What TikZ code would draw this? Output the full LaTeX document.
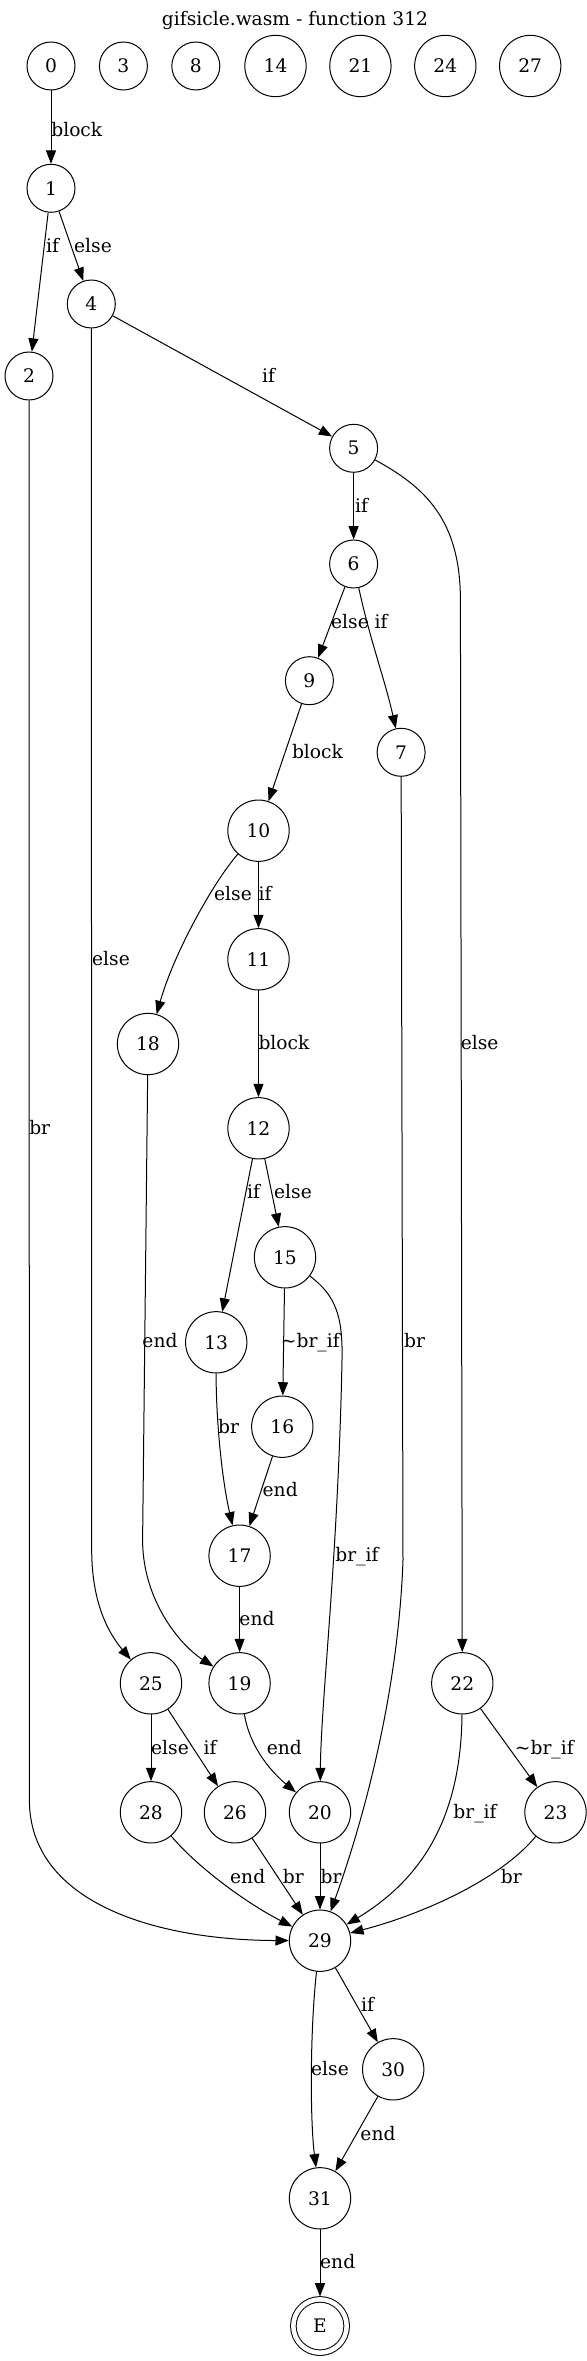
\documentclass[tikz,border=0pt]{standalone}
\usepackage{fontspec}
\setmainfont{DejaVu Serif}
\usetikzlibrary{arrows.meta}

\tikzset{
	vtx/.style={draw, circle, line width=0.75pt, minimum size=36pt, inner sep=0pt},
	vtxw/.style={vtx, minimum size=46pt},
	vtxend/.style={vtx, double, double distance=3.4pt, minimum size=40pt, outer sep=2.1pt},
	flow/.style={line width=0.75pt, -{Triangle[length=10pt, width=7.5pt]}},
	elabel/.style={inner sep=0pt, anchor=base, yshift=-4.8pt},
}

\begin{document}
\begin{tikzpicture}[x=0.75pt, y=-0.75pt, font=\fontsize{14pt}{17pt}\selectfont]
		%%%%% START %%%%%
		\useasboundingbox (0,0) rectangle (586,2361);
		
		\node (title) at (295,20) {gifsicle.wasm - function 312};
		
		\node[vtx] (n0) at (51,66) {0};
		\node[vtx] (n3) at (123.4,66) {3};
		\node[vtx] (n8) at (195.8,66) {8};
		\node[vtxw] (n14) at (275.5,66) {14};
		\node[vtxw] (n21) at (360.4,66) {21};
		\node[vtxw] (n24) at (445.3,66) {24};
		\node[vtxw] (n27) at (530.2,66) {27};
		
		\node[vtx] (n1) at (51,188.3) {1};
		\node[vtx] (n2) at (29,376) {2};
		\node[vtx] (n4) at (91.3,304) {4};
		\node[vtx] (n5) at (353.6,448.3) {5};
		\node[vtx] (n6) at (353.6,564) {6};
		\node[vtx] (n9) at (309.4,680.7) {9};
		\node[vtx] (n7) at (401.1,752.3) {7};
		\node[vtxw] (n10) at (258.5,830.7) {10};
		\node[vtxw] (n11) at (258.5,959.3) {11};
		\node[vtxw] (n18) at (148,1044) {18};
		\node[vtxw] (n12) at (258.5,1128.3) {12};
		\node[vtxw] (n15) at (285,1257.3) {15};
		\node[vtxw] (n13) at (216.2,1342.3) {13};
		\node[vtxw] (n16) at (282.3,1426.7) {16};
		\node[vtxw] (n17) at (239.6,1555.7) {17};
		\node[vtxw] (n25) at (151,1683.3) {25};
		\node[vtxw] (n19) at (239.6,1683.3) {19};
		\node[vtxw] (n22) at (462.3,1683.3) {22};
		\node[vtxw] (n28) at (151,1812.3) {28};
		\node[vtxw] (n26) at (235,1812.3) {26};
		\node[vtxw] (n20) at (320,1812.3) {20};
		\node[vtxw] (n23) at (555.5,1812.3) {23};
		\node[vtxw] (n29) at (320,1940.7) {29};
		\node[vtxw] (n30) at (393.2,2069.3) {30};
		\node[vtxw] (n31) at (320,2198.3) {31};
		\node[vtxend] (nE) at (320,2326) {E};
		
		\draw[flow] (n0) -- (n1) node[elabel] at (76.8,130) {block};
		\draw[flow] (n1) -- (n2) node[elabel] at (52.5,246) {if};
		\draw[flow] (n1) -- (n4) node[elabel] at (93,246) {else};
		\draw[flow] (n4) -- (n5) node[elabel] at (268.5,376) {if};
		\draw[flow] (n4) -- (91.7,1550) .. controls (91.7,1605) and (110,1635) .. (n25) node[elabel] at (111,959.3) {else};
		\draw[flow] (n2) -- (29.4,1800) .. controls (29.4,1900) and (150,1940) .. (n29) node[elabel] at (39.7,1128.3) {br};
		
		\draw[flow] (n5) -- (n6) node[elabel] at (361.5,506) {if};
		\draw[flow] (n5) .. controls (425,487) and (460.4,520) .. (460.4,600) -- (n22) node[elabel] at (479.7,1043.3) {else};
		\draw[flow] (n6) -- (n9) node[elabel] at (350,621.7) {else};
		\draw[flow] (n6) .. controls (370,640) and (385,680) .. (n7) node[elabel] at (381,621.7) {if};
		\draw[flow] (n9) -- (n10) node[elabel] at (317.5,752.3) {block};
		\draw[flow] (n7) -- (403,1560) .. controls (398,1700) and (360,1830) .. (n29) node[elabel] at (414.5,1341) {br};
		
		\draw[flow] (n10) -- (n11) node[elabel] at (265,894.3) {if};
		\draw[flow] (n10) .. controls (215,880) and (175,950) .. (n18) node[elabel] at (233,894.3) {else};
		\draw[flow] (n11) -- (n12) node[elabel] at (284,1043.3) {block};
		\draw[flow] (n12) -- (n13) node[elabel] at (253.5,1191.7) {if};
		\draw[flow] (n12) -- (n15) node[elabel] at (293,1191.7) {else};
		\draw[flow] (n15) -- (n16) node[elabel] at (310.3,1341) {\textasciitilde br\_if};
		\draw[flow] (n15) .. controls (335,1295) and (343,1315) .. (342,1360) .. controls (338,1560) and (321,1700) .. (n20) node[elabel] at (357,1555) {br\_if};
		\draw[flow] (n18) -- (142.6,1540) .. controls (142.6,1600) and (180,1645) .. (n19) node[elabel] at (160,1341) {end};
		\draw[flow] (n13) .. controls (216,1420) and (222,1480) .. (n17) node[elabel] at (228.5,1426.7) {br};
		\draw[flow] (n16) -- (n17) node[elabel] at (280.2,1490) {end};
		\draw[flow] (n17) -- (n19) node[elabel] at (257,1619.3) {end};
		\draw[flow] (n19) .. controls (250,1750) and (275,1775) .. (n20) node[elabel] at (284.4,1747.7) {end};
		
		\draw[flow] (n25) -- (n28) node[elabel] at (170,1747.7) {else};
		\draw[flow] (n25) -- (n26) node[elabel] at (210,1747.7) {if};
		\draw[flow] (n22) -- (n23) node[elabel] at (544.3,1747.7) {\textasciitilde br\_if};
		\draw[flow] (n22) .. controls (461,1820) and (420,1880) .. (n29) node[elabel] at (475,1812.3) {br\_if};
		\draw[flow] (n28) .. controls (200,1870) and (250,1905) .. (n29) node[elabel] at (247.7,1876.7) {end};
		\draw[flow] (n26) -- (n29) node[elabel] at (293.4,1876.7) {br};
		\draw[flow] (n20) -- (n29) node[elabel] at (331,1876.7) {br};
		\draw[flow] (n23) .. controls (500,1880) and (420,1915) .. (n29) node[elabel] at (511.4,1876.7) {br};
		
		\draw[flow] (n29) -- (n30) node[elabel] at (367.5,2005) {if};
		\draw[flow] (n29) .. controls (310,2030) and (310,2120) .. (n31) node[elabel] at (330,2069.3) {else};
		\draw[flow] (n30) -- (n31) node[elabel] at (378,2134) {end};
		\draw[flow] (n31) -- (nE) node[elabel] at (337.7,2261.7) {end};
		
		%%%%% END %%%%%
\end{tikzpicture}
\end{document}
